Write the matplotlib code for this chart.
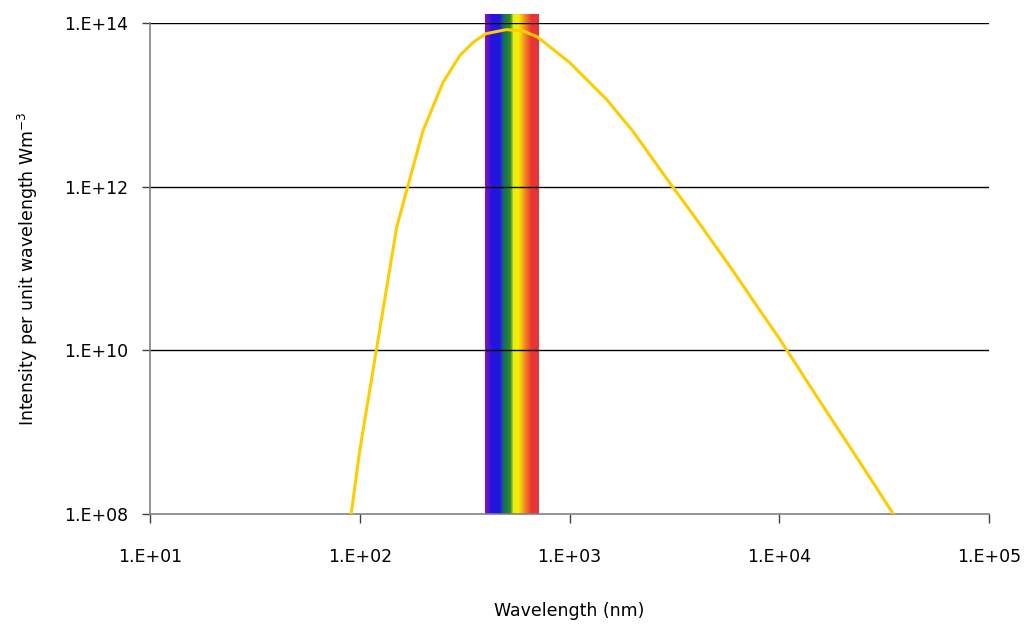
import numpy as np
import matplotlib
matplotlib.use("Agg")
import matplotlib.pyplot as plt
from matplotlib.colors import LinearSegmentedColormap
from matplotlib.ticker import FuncFormatter, NullLocator

# wavelength (nm) and intensity (W m^-3)
wavelength = [91, 100, 150, 200, 250, 300, 350, 400, 500, 600, 700, 800,
              1000, 1500, 2000, 3000, 4000, 5000, 6000, 8000, 10000, 15000,
              25000, 35000]
intensity = [1.0e8, 6.0e8, 3.2e11, 4.8e12, 1.9e13, 4.0e13, 5.9e13, 7.4e13,
             8.3e13, 8.0e13, 6.8e13, 5.2e13, 3.3e13, 1.17e13, 4.8e12, 1.12e12,
             4.1e11, 1.83e11, 9.5e10, 3.2e10, 1.4e10, 2.8e9, 3.8e8, 1.0e8]

visible_band = [395, 716]   # nm
band_top = 1.29e14
spectrum_colors = ["#8a10b4", "#5a14cc", "#2414e0", "#2018dc", "#1a5a90",
                   "#1c7a3c", "#2e8834", "#e8ec10", "#f4f000", "#f2c014",
                   "#f07a22", "#e83434", "#e83434"]
spectrum_stops = [0.0, 0.06, 0.12, 0.27, 0.33, 0.39, 0.47, 0.53, 0.62,
                  0.68, 0.76, 0.86, 1.0]

fig = plt.figure(figsize=(10.29, 6.28), dpi=100)
ax = fig.add_axes([0.1458, 0.1815, 0.8153, 0.7819])

ax.set_xscale("log")
ax.set_yscale("log")
ax.set_xlim(10, 1e5)
ax.set_ylim(1e8, 1e14)

# rainbow band for the visible region
cmap = LinearSegmentedColormap.from_list("spectrum", list(zip(spectrum_stops, spectrum_colors)))
xe = np.geomspace(visible_band[0], visible_band[1], 200)
ye = np.array([1e8, band_top])
c = np.linspace(0, 1, len(xe) - 1).reshape(1, -1)
ax.pcolormesh(xe, ye, c, cmap=cmap, shading="flat", zorder=1, clip_on=False)

for v in [1e10, 1e12, 1e14]:
    ax.axhline(v, color="black", lw=1.0, zorder=2)

ax.plot(wavelength, intensity, color="#ffcc00", lw=2.2, zorder=3)

for s in ["top", "right"]:
    ax.spines[s].set_visible(False)
for s in ["left", "bottom"]:
    ax.spines[s].set_color("#808080")
    ax.spines[s].set_linewidth(1.2)

ax.set_xticks([1e1, 1e2, 1e3, 1e4, 1e5])
ax.set_yticks([1e8, 1e10, 1e12, 1e14])
ax.xaxis.set_minor_locator(NullLocator())
ax.yaxis.set_minor_locator(NullLocator())
fmt = FuncFormatter(lambda v, p: "1.E+%02d" % int(round(np.log10(v))))
ax.xaxis.set_major_formatter(fmt)
ax.yaxis.set_major_formatter(fmt)
ax.tick_params(axis="x", direction="out", length=6.5, width=1, color="#404040",
               pad=18, labelsize=12.5)
ax.tick_params(axis="y", direction="out", length=6, width=1, color="#404040",
               pad=10, labelsize=12.5)

ax.set_xlabel("Wavelength (nm)", fontsize=12.5, labelpad=26)
ax.set_ylabel("Intensity per unit wavelength Wm$^{-3}$", fontsize=12.5, labelpad=17)

fig.savefig("out.png", dpi=100)
